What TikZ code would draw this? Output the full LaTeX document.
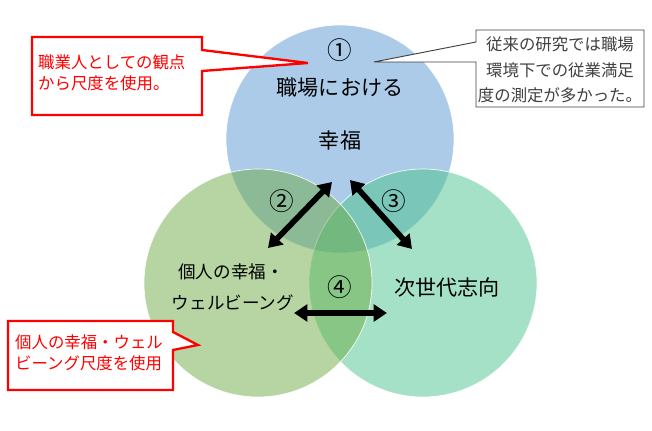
\documentclass[tikz,border=0pt]{standalone}
\usepackage{fontspec}
\setmainfont{Noto Sans CJK JP}
\usetikzlibrary{arrows.meta}
\definecolor{WorkBlue}{HTML}{5997D1}
\definecolor{SelfGreen}{HTML}{6DAB45}
\definecolor{NextMint}{HTML}{4BC38D}
\definecolor{NoteRed}{HTML}{FF0000}
\definecolor{NoteGray}{HTML}{404040}
\begin{document}
\begin{tikzpicture}[
  x=0.03cm,y=-0.03cm,
  ring/.style={circle,inner sep=0pt,minimum size=6.84cm,fill opacity=0.5,draw=white,draw opacity=0.9,line width=0.6pt},
  bigtext/.style={inner sep=0pt,font=\fontsize{18}{22}\selectfont},
  numtext/.style={inner sep=0pt,font=\fontsize{21}{24}\selectfont},
  midtext/.style={inner sep=0pt,font=\fontsize{15}{18}\selectfont},
  dbl/.style={{Triangle[length=4mm,width=5mm]}-{Triangle[length=4mm,width=5mm]},line width=1.7mm,draw=black},
  rednote/.style={draw=NoteRed,fill=white,line width=2pt,line join=miter},
  graynote/.style={draw=NoteGray,fill=white,line width=0.8pt},
  notetext/.style={inner sep=0pt,font=\fontsize{14}{17.5}\selectfont,align=left}
]
\useasboundingbox (0,0) rectangle (652,431);
% three circles
\node[ring,fill=WorkBlue] (work) at (340,139) {};
\node[ring,fill=NextMint] (next) at (423,283) {};
\node[ring,fill=SelfGreen] (self) at (258,283) {};
% circle texts
\node[numtext] (n1) at (340,50) {①};
\node[bigtext] (worktxt) at (340,88) {職場における};
\node[bigtext] (workhap) at (340,140) {幸福};
\node[numtext] (n2) at (282,201) {②};
\node[numtext] (n3) at (394,201) {③};
\node[numtext] (n4) at (340,287) {④};
\node[midtext] (selftxt) at (231,272) {個人の幸福・};
\node[midtext] (selfwb) at (233,303) {ウェルビーング};
\node[bigtext] (nexttxt) at (447,287) {次世代志向};
% arrows
\coordinate (w2) at (332,182);
\coordinate (s2) at (268,248);
\coordinate (w3) at (350,180);
\coordinate (x3) at (412,249);
\coordinate (s4) at (294,313);
\coordinate (x4) at (387,313);
\draw[dbl] (w2) -- (s2);
\draw[dbl] (w3) -- (x3);
\draw[dbl] (s4) -- (x4);
% callouts
\draw[rednote] (32,37) -- (202,37) -- (202,50) -- (308,63) -- (202,71) -- (202,115) -- (32,115) -- cycle;
\node[notetext,text=NoteRed,anchor=west] (view) at (38,73) {職業人としての観点\\から尺度を使用。};
\draw[graynote] (476,30) -- (644,30) -- (644,107) -- (476,107) -- (476,62) -- (374,62) -- (476,42) -- cycle;
\node[notetext,text=NoteGray,align=center,font=\fontsize{14}{22}\selectfont] (past) at (560,70) {従来の研究では職場\\環境下での従業満足\\度の測定が多かった。};
\draw[rednote] (8,321) -- (173,321) -- (173,332) -- (198,345) -- (173,350) -- (173,390) -- (8,390) -- cycle;
\node[notetext,text=NoteRed,anchor=west] (scale) at (15,353) {個人の幸福・ウェル\\ビーング尺度を使用};
\end{tikzpicture}
\end{document}
